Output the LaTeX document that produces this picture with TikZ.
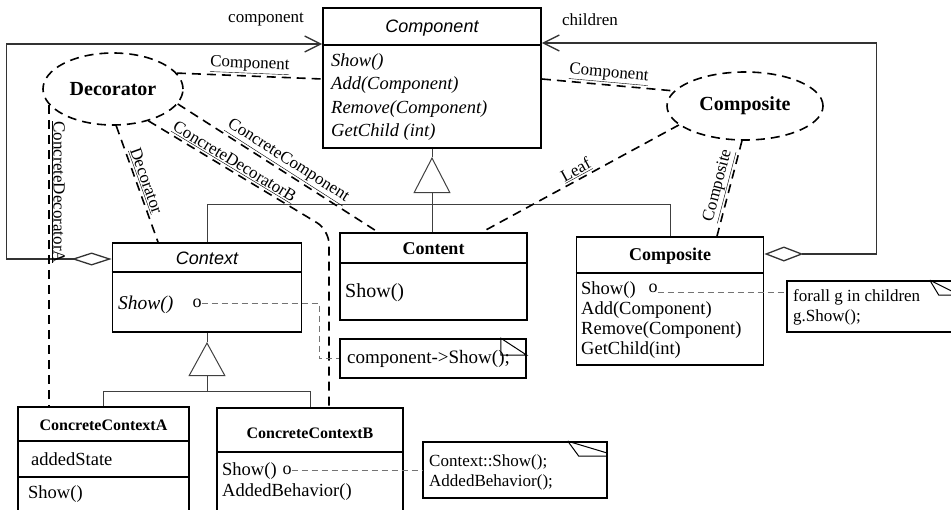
\documentclass[tikz,border=0pt]{standalone}
\usepackage{fontspec}
\setmainfont{Liberation Serif}
\newfontfamily\helvfont{Liberation Sans}
\usetikzlibrary{shapes, arrows.meta, positioning, calc}
\newcommand{\setfs}[2]{\fontsize{#1}{#2}\selectfont}

\begin{document}
\begin{tikzpicture}[x=1pt, y=-1pt,
    classbox/.style={draw, line width=1.8pt, inner sep=0pt},
    sepline/.style={line width=1.8pt},
    notebox/.style={draw, line width=1.6pt, inner sep=0pt},
    foldline/.style={line width=1pt},
    roleell/.style={draw, ellipse, line width=1.6pt, dash pattern=on 9pt off 6pt, inner sep=0pt, font=\bfseries\setfs{20}{20}},
    role/.style={line width=1.6pt, dash pattern=on 9pt off 6pt},
    rolelabel/.style={font=\setfs{17}{17}, inner sep=1.5pt},
    tree/.style={line width=1pt, draw=black!75},
    loopline/.style={line width=1.3pt, draw=black!80},
    notelink/.style={line width=0.9pt, draw=black!55, dash pattern=on 6pt off 4pt},
    ttl/.style={font=\bfseries\setfs{18}{18}, inner sep=0pt},
    ittl/.style={font=\helvfont\itshape\setfs{18}{18}, inner sep=0pt},
    ops/.style={anchor=west, align=left, inner sep=0pt, font=\setfs{18.5}{20}},
    dot/.style={font=\setfs{18}{18}, inner sep=0pt}]
  \useasboundingbox (0,0) rectangle (951,509);
  \clip (0,0) rectangle (951,509);

  % classes
  \node[classbox, minimum width=218pt, minimum height=140pt] (component) at (432,78) {};
  \draw[sepline] (component.west |- 0,45) -- (component.east |- 0,45);
  \node[ittl] (componenttitle) at (432,28) {Component};
  \node[ops, font=\itshape\setfs{18.5}{23.3}] (componentops) at (331,97) {Show()\\Add(Component)\\Remove(Component)\\GetChild (int)};

  \node[classbox, minimum width=189pt, minimum height=89pt] (context) at (207,287.5) {};
  \draw[sepline] (context.west |- 0,272) -- (context.east |- 0,272);
  \node[ittl] (contexttitle) at (207,258) {Context};
  \node[ops, font=\itshape\setfs{19.5}{20}] (contextops) at (118,305) {Show()};
  \node[dot] (ctxdot) at (197,303) {o};

  \node[classbox, minimum width=187pt, minimum height=87pt] (content) at (433.5,276.5) {};
  \draw[sepline] (content.west |- 0,263) -- (content.east |- 0,263);
  \node[ttl] (contenttitle) at (433.5,249) {Content};
  \node[ops, font=\setfs{20}{20}] (contentops) at (345,293) {Show()};

  \node[classbox, minimum width=187pt, minimum height=128pt] (compbox) at (670,301) {};
  \draw[sepline] (compbox.west |- 0,273) -- (compbox.east |- 0,273);
  \node[ttl] (compboxtitle) at (670,256) {Composite};
  \node[ops] (compboxops) at (581,320) {Show()\\Add(Component)\\Remove(Component)\\GetChild(int)};
  \node[dot] (cpdot) at (653,288) {o};

  \node[classbox, minimum width=171pt, minimum height=108pt] (conA) at (103.5,461) {};
  \draw[sepline] (conA.west |- 0,441) -- (conA.east |- 0,441);
  \draw[sepline] (conA.west |- 0,477) -- (conA.east |- 0,477);
  \node[ttl, font=\bfseries\setfs{16}{16}] (conAtitle) at (103.5,425) {ConcreteContextA};
  \node[ops] (conAstate) at (31,459) {addedState};
  \node[ops] (conAops) at (28,494) {Show()};

  \node[classbox, minimum width=186pt, minimum height=107pt] (conB) at (310,461.5) {};
  \draw[sepline] (conB.west |- 0,452) -- (conB.east |- 0,452);
  \node[ttl, font=\bfseries\setfs{16}{16}] (conBtitle) at (310,433) {ConcreteContextB};
  \node[ops, font=\setfs{18.5}{21}] (conBops) at (222,482) {Show()\\AddedBehavior()};
  \node[dot] (cbdot) at (287,470) {o};

  % notes
  \node[notebox, minimum width=186pt, minimum height=39pt] (noteshow) at (433,358.5) {};
  \node[anchor=west, inner sep=0pt, font=\setfs{19}{19}] (noteshowtext) at (347,359) {component->Show();};
  \draw[foldline] ($(noteshow.north east)+(-26,0)$) -- ++(0,17) -- ++(26,0) -- cycle;

  \node[notebox, minimum width=184pt, minimum height=56pt] (notectx) at (515,470) {};
  \node[ops, font=\setfs{17}{20}] (notectxtext) at (429,472) {Context::Show();\\AddedBehavior();};
  \draw[foldline] ($(notectx.north east)+(-40,0)$) -- ++(11,15) -- ($(notectx.north east)+(0,15)$);
  \draw[foldline] ($(notectx.north east)+(-40,0)$) -- ($(notectx.north east)+(0,12)$);

  \node[notebox, minimum width=166pt, minimum height=51pt] (noteforall) at (870,306.5) {};
  \node[ops, font=\setfs{17}{20}] (noteforalltext) at (793,307) {forall g in children\\g.Show();};
  \draw[foldline] ($(noteforall.north east)+(-24,0)$) -- ++(9,15) -- ($(noteforall.north east)+(0,15)$);
  \draw[foldline] ($(noteforall.north east)+(-24,0)$) -- ($(noteforall.north east)+(0,12)$);

  % generalization
  \coordinate (comptip) at (432,157);
  \draw[tree] (component.south) -- (comptip);
  \draw[tree, -{Triangle[open, length=36pt, width=37pt]}] (content.north -| comptip) -- (comptip);
  \draw[tree] (context.north) -- ++(0,-38) -| (compbox.north);
  \coordinate (ctxtip) at (207,342);
  \coordinate (ctxbar) at (207,392);
  \draw[tree] (context.south) -- (ctxtip);
  \draw[tree, -{Triangle[open, length=34pt, width=37pt]}] (ctxbar) -- (ctxtip);
  \draw[tree] (conA.north) -- ++(0,-15) -| (conB.north);

  % aggregation loops
  \draw[loopline, {Diamond[open, length=40pt, width=13pt]}-{Straight Barb[length=16pt, width=16pt]}]
    (context.west |- 0,259) -- ++(-105,0) |- (component.west |- 0,44);
  \draw[loopline, {Diamond[open, length=39pt, width=15pt]}-{Straight Barb[length=16pt, width=16pt]}]
    (compbox.east |- 0,254) -- ++(112,0) |- (component.east |- 0,43);
  \node[font=\setfs{17}{17}] (complabel) at (266,20) {component};
  \node[font=\setfs{17}{17}] (childlabel) at (590,20) {children};

  % collaborations
  \node[roleell, minimum width=140pt, minimum height=72pt] (decorator) at (113,89) {Decorator};
  \node[roleell, minimum width=156pt, minimum height=68pt] (compell) at (745,106) {Composite};

  \draw[role] (decorator.14) -- (component.west |- 0,79) node[rolelabel, midway, above, sloped] {\underline{Component}};
  \draw[role] (component.east |- 0,79) -- (compell.168) node[rolelabel, midway, above, sloped] {\underline{Component}};
  \draw[role] (decorator.275) -- (context.north -| 158,0) node[rolelabel, midway, above, sloped] {\underline{Decorator}};
  \draw[role] (decorator.194) -- (decorator.194 |- conA.north) node[rolelabel, pos=0.29, anchor=south, rotate=-90] {\underline{ConcreteDecoratorA}};
  \draw[role, rounded corners=14pt] (decorator.318) -- node[rolelabel, pos=0.45, above, sloped] {\underline{ConcreteDecoratorB}} (329,230) -- (conB.north -| 329,0);
  \draw[role] (decorator.347) -- (content.north -| 378,0) node[rolelabel, pos=0.52, above, sloped] {\underline{ConcreteComponent}};
  \draw[role] (compell.196) -- (content.north -| 482,0) node[rolelabel, pos=0.5, above, sloped] {\underline{Leaf}};
  \draw[role] (compell.265) -- (compbox.north -| 717,0) node[rolelabel, midway, above, sloped] {\underline{Composite}};

  % note links
  \draw[notelink] (ctxdot.east) -- ($(ctxdot.east -| noteshow.west)+(-20,0)$) |- (noteshow.west);
  \draw[notelink] (cbdot.east) -- (cbdot.east -| notectx.west);
  \draw[notelink] (cpdot.south east) -- (cpdot.south east -| noteforall.west);
\end{tikzpicture}
\end{document}
